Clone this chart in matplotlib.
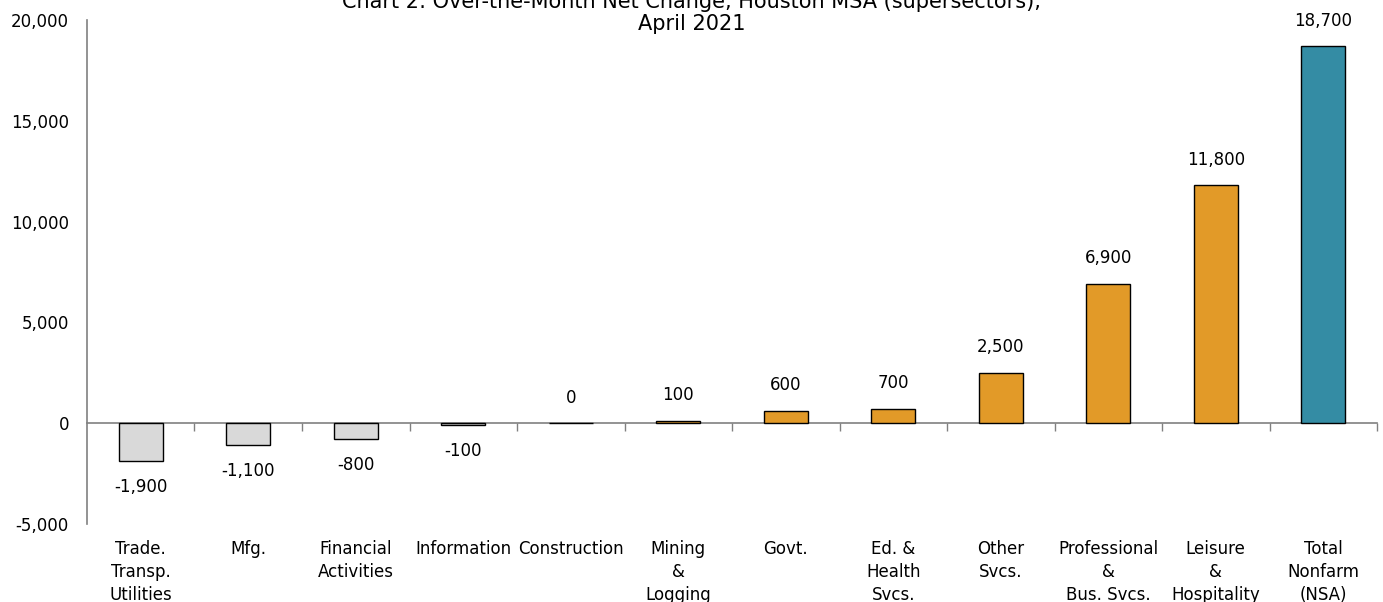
import matplotlib
matplotlib.use("Agg")
import matplotlib.pyplot as plt
import matplotlib.transforms as mtransforms
import numpy as np

plt.rcParams['font.family'] = ['DejaVu Sans']

# Over-the-month net change by supersector
sectors = ["Trade.\nTransp.\nUtilities", "Mfg.", "Financial\nActivities",
           "Information", "Construction", "Mining\n&\nLogging", "Govt.",
           "Ed. &\nHealth\nSvcs.", "Other\nSvcs.", "Professional\n&\nBus. Svcs.",
           "Leisure\n&\nHospitality", "Total\nNonfarm\n(NSA)"]
changes = [-1900, -1100, -800, -100, 0, 100, 600, 700, 2500, 6900, 11800, 18700]
yticks = [-5000, 0, 5000, 10000, 15000, 20000]

C_NEG = '#D9D9D9'
C_POS = '#E29A28'
C_TOTAL = '#348CA4'
C_AXIS = '#808080'
FS = 12

fig = plt.figure(figsize=(13.83, 6.02), dpi=100)
ax = fig.add_axes([0.0629, 0.1296, 0.9328, 0.8372])

x = np.arange(len(changes))
colors = [C_TOTAL if i == len(changes) - 1 else (C_NEG if v < 0 else C_POS)
          for i, v in enumerate(changes)]
ax.bar(x, changes, width=0.41, color=colors, edgecolor='black', linewidth=1.0, zorder=3)

# value labels above / below each bar
for xi, v in zip(x, changes):
    off = -12 if v < 0 else 12
    ax.annotate(f"{v:,}", (xi, v), xytext=(0, off), textcoords='offset points',
                ha='center', va='top' if v < 0 else 'bottom', fontsize=FS)

ax.set_xlim(-0.5, len(changes) - 0.5)
ax.set_ylim(-5000, 20000)
ax.set_yticks(yticks)
ax.set_yticklabels([f"{t:,}" for t in yticks], fontsize=FS)
ax.tick_params(axis='y', length=0, pad=13)

# category axis sits on zero, with ticks between categories
for s in ['top', 'right']:
    ax.spines[s].set_visible(False)
ax.spines['left'].set_color(C_AXIS)
ax.spines['left'].set_linewidth(1.2)
ax.spines['bottom'].set_position(('data', 0))
ax.spines['bottom'].set_color(C_AXIS)
ax.spines['bottom'].set_linewidth(1.2)
ax.set_xticks(np.arange(0.5, len(changes), 1.0))
ax.set_xticklabels([])
ax.tick_params(axis='x', length=6, width=1.0, color=C_AXIS, direction='out')

trans = mtransforms.blended_transform_factory(ax.transData, ax.transAxes)
for xi, lab in zip(x, sectors):
    ax.text(xi, -0.032, lab, transform=trans, ha='center', va='top',
            fontsize=FS, linespacing=1.35)

fig.text(0.5, 1.014, "Chart 2: Over-the-Month Net Change, Houston MSA (supersectors),\nApril 2021",
         ha='center', va='top', fontsize=15, linespacing=1.15)

fig.savefig("out.png", dpi=100)
